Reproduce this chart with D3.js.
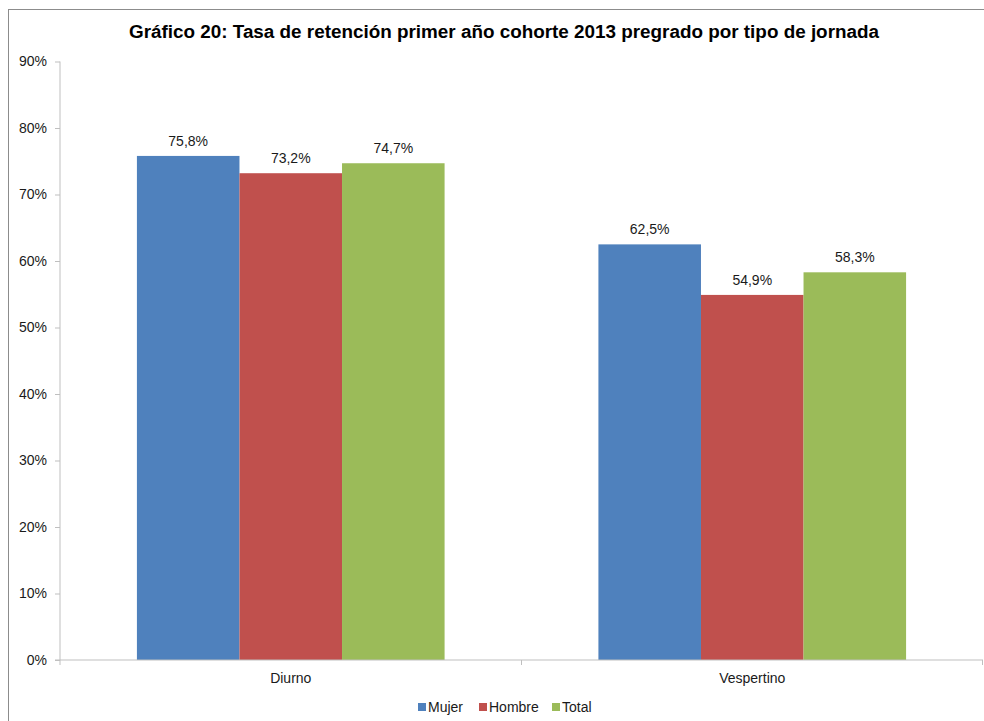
<!DOCTYPE html>
<html>
<head>
<meta charset="utf-8">
<script src="https://cdn.jsdelivr.net/npm/d3@7"></script>
<style>
  body { margin: 0; background: #fff; }
  svg { display: block; font-family: "Liberation Sans", Arial, sans-serif; }
</style>
</head>
<body>
<div class="chart-wrapper"></div>
<script>
const categories = ["Diurno", "Vespertino"];
const series = ["Mujer", "Hombre", "Total"];
const mujer = [75.8, 62.5];
const hombre = [73.2, 54.9];
const total = [74.7, 58.3];
const yTicks = [0, 10, 20, 30, 40, 50, 60, 70, 80, 90];
const colors = ["#4F81BD", "#C0504D", "#9BBB59"];

const values = [mujer, hombre, total];
const width = 984, height = 721;
const margin = { top: 61.5, right: 1, bottom: 61, left: 60 };
const fs = 14;

const svg = d3.select(".chart-wrapper").append("svg")
    .attr("width", width)
    .attr("height", height);

// outer frame
svg.append("rect")
    .attr("x", 8.5).attr("y", 9.5)
    .attr("width", 1000).attr("height", 1000)
    .attr("fill", "none")
    .attr("stroke", "#8c8c8c");

const x0 = d3.scaleBand()
    .domain(categories)
    .range([margin.left, width - margin.right]);

const bw = x0.bandwidth();
const x1 = d3.scaleBand()
    .domain(series)
    .range([bw / 6, bw * 5 / 6]);

const y = d3.scaleLinear()
    .domain([0, 90])
    .range([height - margin.bottom, margin.top]);

// y axis
const yAxis = svg.append("g")
    .attr("transform", `translate(${margin.left},0)`)
    .call(d3.axisLeft(y).tickValues(yTicks).tickSize(5).tickPadding(8).tickFormat(d => d + "%"));
yAxis.selectAll("line").attr("stroke", "#bfbfbf");
yAxis.select(".domain").attr("stroke", "#bfbfbf").attr("d", `M0,${y(90)}H0V${y(0)}`);
yAxis.selectAll("text").attr("font-size", fs).attr("fill", "#1a1a1a")
    .attr("font-family", "Liberation Sans, Arial, sans-serif");

// bars
const group = svg.append("g").selectAll("g")
    .data(categories)
    .join("g")
    .attr("transform", d => `translate(${x0(d)},0)`);

group.selectAll("rect")
    .data((d, i) => series.map((s, j) => ({ s, j, v: values[j][i] })))
    .join("rect")
    .attr("x", d => x1(d.s))
    .attr("y", d => y(d.v))
    .attr("width", x1.bandwidth())
    .attr("height", d => y(0) - y(d.v))
    .attr("fill", d => colors[d.j]);

group.selectAll("text")
    .data((d, i) => series.map((s, j) => ({ s, j, v: values[j][i] })))
    .join("text")
    .attr("x", d => x1(d.s) + x1.bandwidth() / 2)
    .attr("y", d => y(d.v) - 10)
    .attr("text-anchor", "middle")
    .attr("font-size", fs)
    .attr("fill", "#1a1a1a")
    .text(d => d.v.toFixed(1).replace(".", ",") + "%");

// x axis
const xAxis = svg.append("g")
    .attr("transform", `translate(0,${y(0)})`);
xAxis.append("line")
    .attr("x1", margin.left - 5).attr("x2", width - margin.right)
    .attr("stroke", "#bfbfbf");
xAxis.selectAll(".tk")
    .data([margin.left, x0("Vespertino"), width - margin.right - 0.5])
    .join("line")
    .attr("class", "tk")
    .attr("x1", d => d).attr("x2", d => d)
    .attr("y1", 0).attr("y2", 5)
    .attr("stroke", "#bfbfbf");
xAxis.selectAll("text")
    .data(categories)
    .join("text")
    .attr("x", d => x0(d) + bw / 2)
    .attr("y", 23)
    .attr("text-anchor", "middle")
    .attr("font-size", fs)
    .attr("fill", "#1a1a1a")
    .text(d => d);

// title
svg.append("text")
    .attr("x", 504)
    .attr("y", 38)
    .attr("text-anchor", "middle")
    .attr("font-size", 18)
    .attr("font-weight", "bold")
    .attr("fill", "#000")
    .attr("textLength", 750)
    .attr("lengthAdjust", "spacingAndGlyphs")
    .text("Gráfico 20: Tasa de retención primer año cohorte 2013 pregrado por tipo de jornada");

// legend
const legendX = [418, 479, 552];
const legend = svg.append("g").selectAll("g")
    .data(series)
    .join("g")
    .attr("transform", (d, i) => `translate(${legendX[i]},707)`);
legend.append("rect")
    .attr("x", 0).attr("y", -4)
    .attr("width", 8).attr("height", 8)
    .attr("fill", (d, i) => colors[i]);
legend.append("text")
    .attr("x", 10).attr("y", 5)
    .attr("font-size", fs)
    .attr("fill", "#1a1a1a")
    .text(d => d);
</script>
</body>
</html>
